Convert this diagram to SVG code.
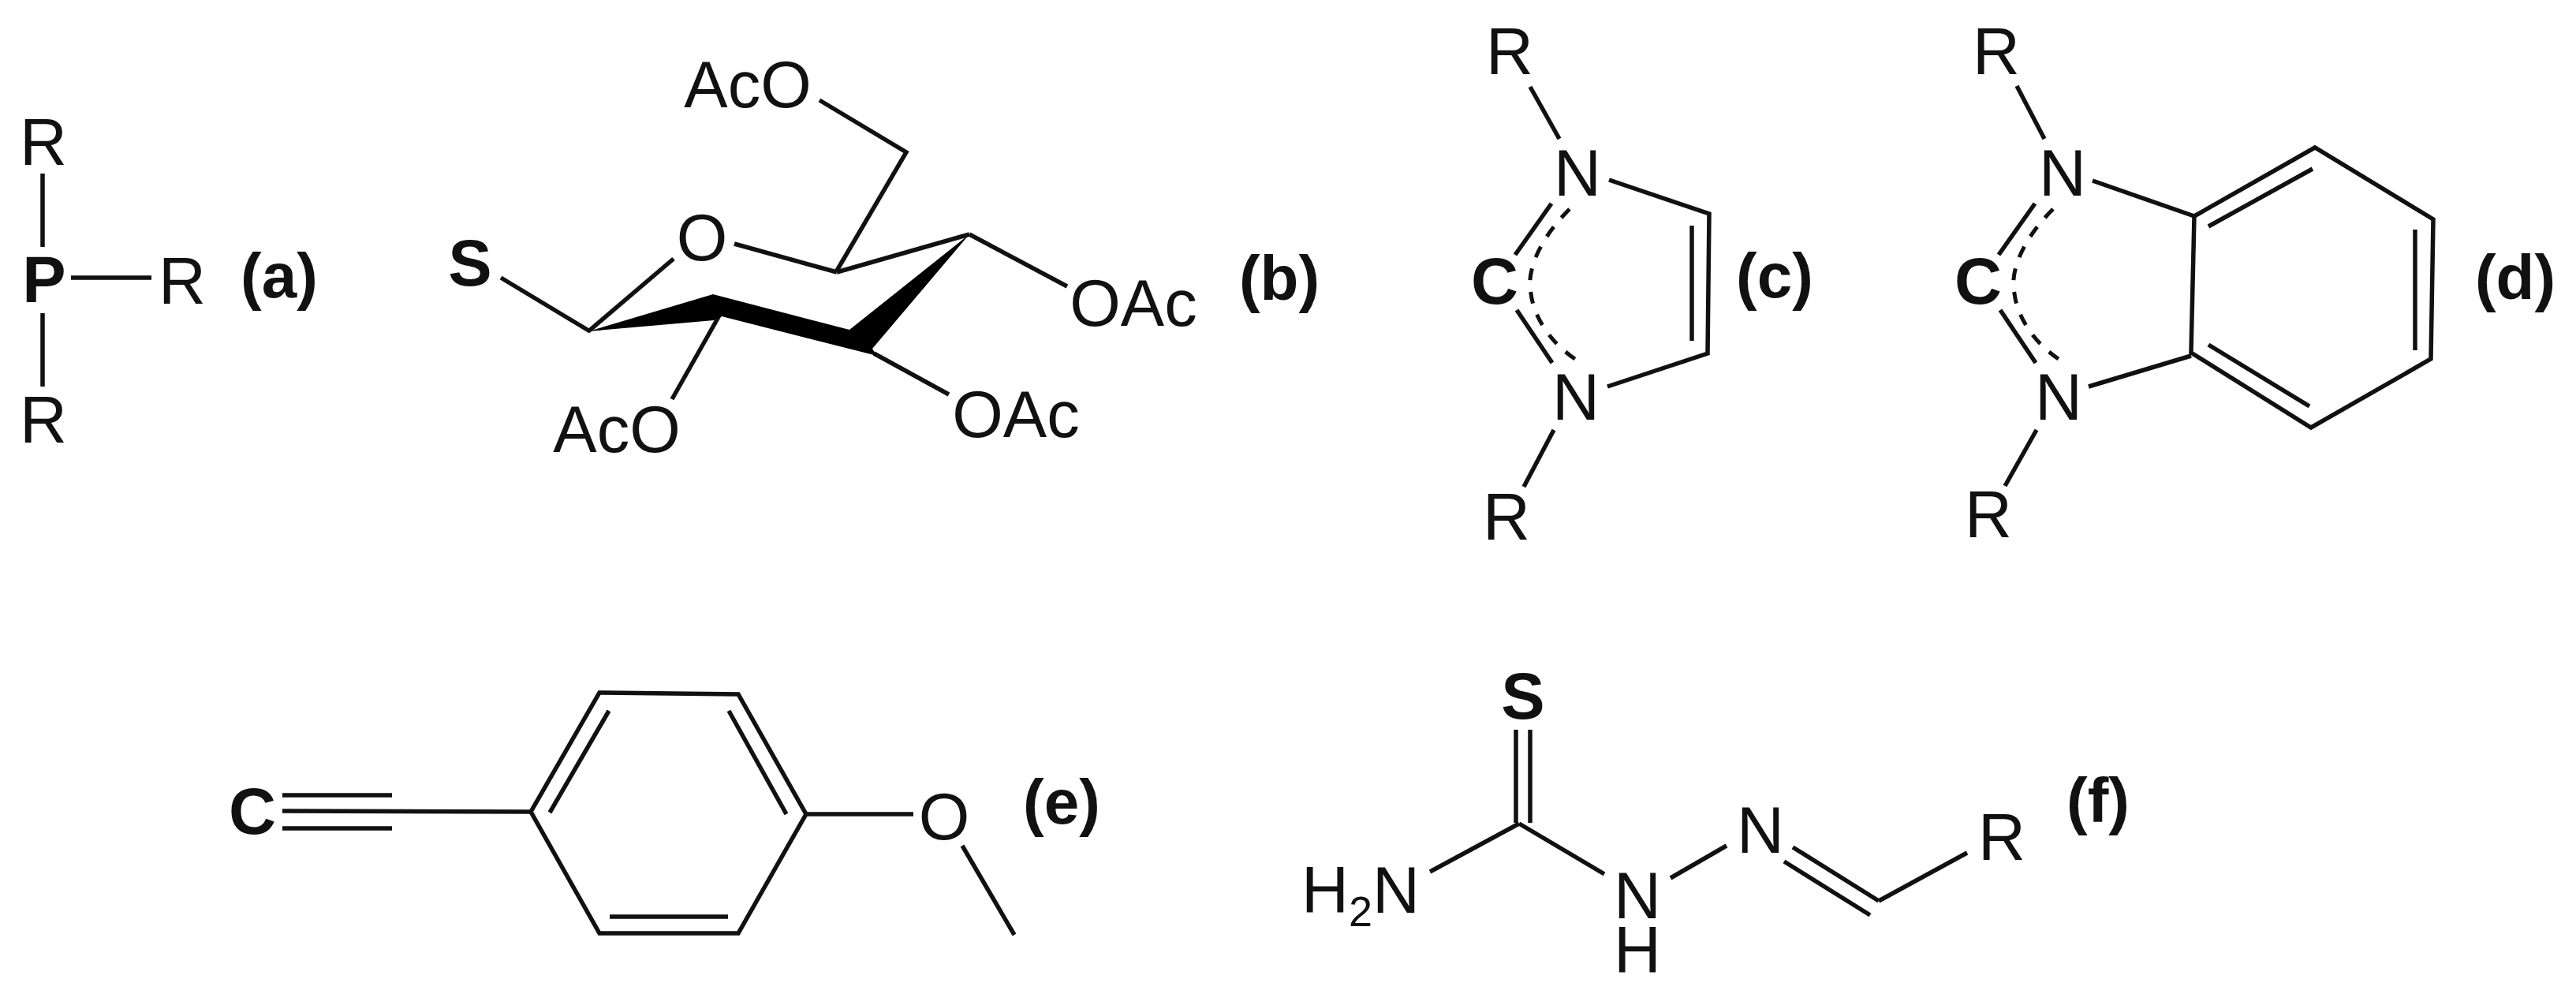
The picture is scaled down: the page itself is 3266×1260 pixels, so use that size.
<svg xmlns="http://www.w3.org/2000/svg" width="3266" height="1260" viewBox="0 0 3266 1260">
<style>
text{font-family:"Liberation Sans",Arial,sans-serif;fill:#111;text-anchor:middle}
.t{font-size:83px}
.b{font-size:83px;font-weight:700}
.l{font-size:80px;font-weight:700}
.s{font-size:54px}
#connectors line,#connectors polyline,#connectors .o{stroke:#111;stroke-width:5.5;fill:none}
#connectors .d{stroke:#111;fill:none;stroke-dasharray:15 15;stroke-width:5}
#connectors .w{fill:#000;stroke:none}
</style>
<rect width="3266" height="1260" fill="#fff"/>
<g id="connectors">
<!-- a -->
<line x1="54" y1="220" x2="54" y2="313"/><line x1="90" y1="352" x2="192" y2="352"/><line x1="54" y1="397" x2="54" y2="490"/>
<!-- b -->
<polyline points="1039,127 1149,193 1061,343"/>
<line x1="931" y1="309" x2="1061" y2="345"/>
<line x1="1061" y1="345" x2="1229" y2="297"/>
<line x1="1229" y1="297" x2="1353" y2="363"/>
<line x1="854" y1="328" x2="746" y2="420"/>
<line x1="635" y1="352" x2="748" y2="420"/>
<line x1="1108" y1="448" x2="1203" y2="500"/>
<line x1="912" y1="400" x2="852" y2="506"/>
<polygon class="w" points="746,420 904,373 1077,418 1229,297 1106,442 1112,451 915,401 905,406"/>
<!-- c -->
<line x1="1940" y1="110" x2="1977" y2="176"/>
<polyline points="2040,228 2167,271 2165,448 2038,490"/>
<line x1="2145" y1="286" x2="2145" y2="432"/>
<line x1="1970" y1="545" x2="1932" y2="617"/>
<line x1="1967" y1="258" x2="1921" y2="323"/>
<line x1="1923" y1="393" x2="1968" y2="460"/>
<path class="d" d="M1990,265C1950,305 1935,345 1941,372C1945,405 1970,440 2005,460"/>
<!-- d -->
<line x1="2557" y1="109" x2="2592" y2="176"/>
<line x1="2653" y1="229" x2="2782" y2="274"/>
<polygon class="o" points="2782,274 2935,187 3085,278 3082,455 2930,542 2778,447"/>
<line x1="2800" y1="287" x2="2932" y2="214"/>
<line x1="3062" y1="291" x2="3062" y2="444"/>
<line x1="2800" y1="437" x2="2928" y2="515"/>
<line x1="2778" y1="451" x2="2648" y2="490"/>
<line x1="2582" y1="545" x2="2542" y2="616"/>
<line x1="2580" y1="258" x2="2534" y2="323"/>
<line x1="2536" y1="393" x2="2581" y2="460"/>
<path class="d" d="M2603,265C2563,305 2548,345 2554,372C2558,405 2583,440 2618,460"/>
<!-- e -->
<line x1="358" y1="1008" x2="497" y2="1008"/>
<line x1="358" y1="1050" x2="497" y2="1050"/>
<line x1="358" y1="1028" x2="673" y2="1029"/>
<polygon class="o" points="673,1029 760,878 936,880 1022,1032 936,1183 760,1183"/>
<line x1="772" y1="901" x2="697" y2="1030"/>
<line x1="924" y1="901" x2="997" y2="1032"/>
<line x1="773" y1="1162" x2="923" y2="1162"/>
<line x1="1022" y1="1032" x2="1158" y2="1032"/>
<line x1="1220" y1="1072" x2="1286" y2="1185"/>
<!-- f -->
<line x1="1922" y1="925" x2="1922" y2="1043"/>
<line x1="1940" y1="925" x2="1940" y2="1043"/>
<line x1="1926" y1="1044" x2="1813" y2="1105"/>
<line x1="1926" y1="1044" x2="2034" y2="1108"/>
<line x1="2118" y1="1113" x2="2189" y2="1072"/>
<line x1="2273" y1="1074" x2="2382" y2="1142"/>
<line x1="2262" y1="1092" x2="2371" y2="1160"/>
<line x1="2382" y1="1142" x2="2494" y2="1081"/>
</g>
<g id="mol-a">
<g id="a-r1"><text class="t" x="55" y="209">R</text></g>
<g id="a-p"><text class="b" x="56" y="383">P</text></g>
<g id="a-r2"><text class="t" x="231" y="385">R</text></g>
<g id="a-r3"><text class="t" x="55" y="561">R</text></g>
<g id="a-label"><text class="l" x="354" y="377">(a)</text></g>
</g>
<g id="mol-b">
<g id="b-aco1"><text class="t" x="948" y="136">AcO</text></g>
<g id="b-o"><text class="t" x="890" y="330">O</text></g>
<g id="b-s"><text class="b" x="596" y="362">S</text></g>
<g id="b-oac1"><text class="t" x="1437" y="413">OAc</text></g>
<g id="b-oac2"><text class="t" x="1288" y="554">OAc</text></g>
<g id="b-aco2"><text class="t" x="782" y="573">AcO</text></g>
<g id="b-label"><text class="l" x="1622" y="380">(b)</text></g>
</g>
<g id="mol-c">
<g id="c-r1"><text class="t" x="1914" y="94">R</text></g>
<g id="c-n1"><text class="t" x="2000" y="248">N</text></g>
<g id="c-c"><text class="b" x="1895" y="385">C</text></g>
<g id="c-n2"><text class="t" x="1998" y="532">N</text></g>
<g id="c-r2"><text class="t" x="1910" y="684">R</text></g>
<g id="c-label"><text class="l" x="2250" y="377">(c)</text></g>
</g>
<g id="mol-d">
<g id="d-r1"><text class="t" x="2531" y="94">R</text></g>
<g id="d-n1"><text class="t" x="2615" y="248">N</text></g>
<g id="d-c"><text class="b" x="2508" y="385">C</text></g>
<g id="d-n2"><text class="t" x="2610" y="532">N</text></g>
<g id="d-r2"><text class="t" x="2521" y="681">R</text></g>
<g id="d-label"><text class="l" x="3189" y="379">(d)</text></g>
</g>
<g id="mol-e">
<g id="e-c"><text class="b" x="320" y="1057">C</text></g>
<g id="e-o"><text class="t" x="1197" y="1064">O</text></g>
<g id="e-label"><text class="l" x="1346" y="1044">(e)</text></g>
</g>
<g id="mol-f">
<g id="f-s"><text class="b" x="1931" y="911">S</text></g>
<g id="f-h2n"><text class="t" x="1725" y="1157">H<tspan class="s" dy="17">2</tspan><tspan dy="-17">N</tspan></text></g>
<g id="f-nh"><text class="t" x="2076" y="1164">N</text><text class="t" x="2076" y="1233">H</text></g>
<g id="f-n"><text class="t" x="2232" y="1081">N</text></g>
<g id="f-r"><text class="t" x="2538" y="1090">R</text></g>
<g id="f-label"><text class="l" x="2660" y="1042">(f)</text></g>
</g>
</svg>
